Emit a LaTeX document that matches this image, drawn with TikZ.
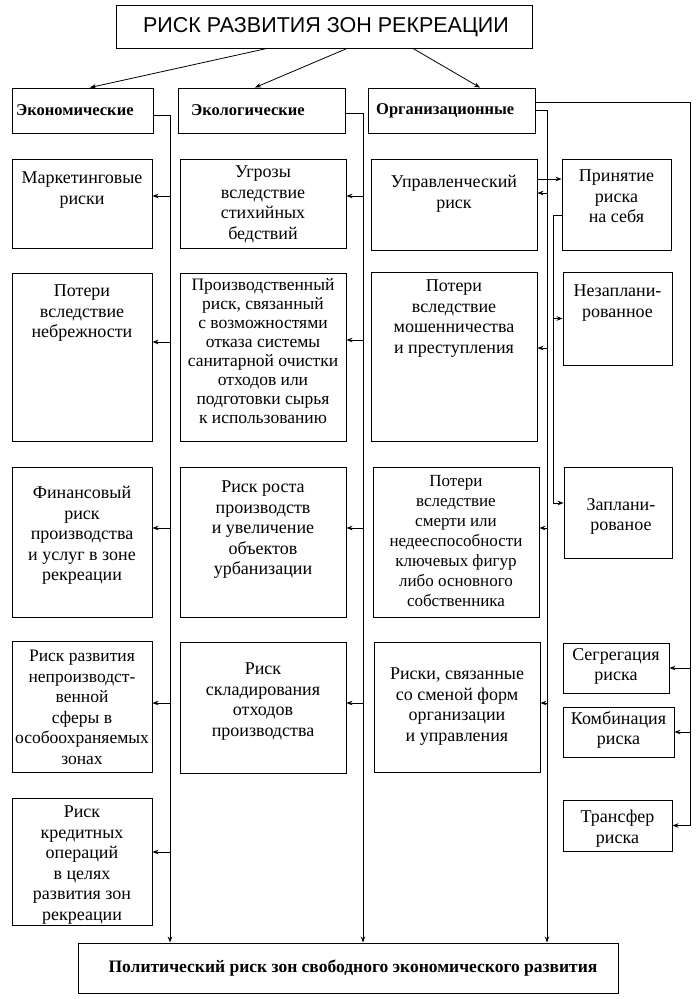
\documentclass[tikz,border=0pt]{standalone}
\usepackage{fontspec}
\setmainfont{Liberation Serif}
\newfontfamily\titlefont{Liberation Sans}
\usetikzlibrary{arrows.meta}

\tikzset{
  rbox/.style={draw, line width=0.9pt, inner sep=0pt},
  rtext/.style={anchor=north, align=center, inner sep=0pt, font=\fontsize{18}{20.5}\selectfont},
  hdr/.style={anchor=west, inner sep=0pt, font=\fontsize{16.5}{19}\selectfont\bfseries},
  link/.style={line width=0.8pt},
}

\begin{document}
\begin{tikzpicture}[x=1pt, y=-1pt, >={Stealth[length=6pt,width=4.5pt]}]

\useasboundingbox (0,0) rectangle (700,999);

% title and three groups
\node[rbox, minimum width=416pt, minimum height=43pt] (title) at (324,26.5) {};
\node[inner sep=0pt, font=\titlefont\fontsize{21.5}{24}\selectfont] (title-t) at (326,27) {РИСК РАЗВИТИЯ ЗОН РЕКРЕАЦИИ};

\node[rbox, minimum width=141pt, minimum height=45pt] (econ) at (82.5,110.5) {};
\node[hdr] (econ-t) at (16,110.5) {Экономические};
\node[rbox, minimum width=167pt, minimum height=45pt] (ecol) at (261.5,110.5) {};
\node[hdr] (ecol-t) at (191,110.5) {Экологические};
\node[rbox, minimum width=167pt, minimum height=45pt] (org) at (451.5,110.5) {};
\node[hdr] (org-t) at (376,110.5) {Организационные};

\draw[link,->] ([xshift=-57pt]title.south) -- ([xshift=7.5pt]econ.north);
\draw[link,->] ([xshift=23pt]title.south) -- ([xshift=-6.5pt]ecol.north);
\draw[link,->] ([xshift=89pt]title.south) -- ([xshift=28.5pt]org.north);

% bottom
\node[rbox, minimum width=540pt, minimum height=50pt] (polit) at (348,968) {};
\node[inner sep=0pt, font=\fontsize{17.5}{19}\selectfont\bfseries] (polit-t) at (353,968) {Политический риск зон свободного экономического развития};

% economic column
\node[rbox, minimum width=140pt, minimum height=89pt] (mark) at (82,203.5) {};
\node[rtext] (mark-t) at (82,172) {Маркетинговые\\риски};
\node[rbox, minimum width=140pt, minimum height=168pt] (neb) at (82,357) {};
\node[rtext] (neb-t) at (82,285) {Потери\\вследствие\\небрежности};
\node[rbox, minimum width=140pt, minimum height=150pt] (fin) at (82,542) {};
\node[rtext] (fin-t) at (82,486) {Финансовый\\риск\\производства\\и услуг в зоне\\рекреации};
\node[rbox, minimum width=140pt, minimum height=131pt] (nepr) at (82,706.5) {};
\node[rtext, font=\fontsize{17.5}{20.5}\selectfont] (nepr-t) at (82,650) {Риск развития\\непроизводст-\\венной\\сферы в\\особоохраняемых\\зонах};
\node[rbox, minimum width=140pt, minimum height=127pt] (kred) at (82,861.5) {};
\node[rtext] (kred-t) at (82,806) {Риск\\кредитных\\операций\\в целях\\развития зон\\рекреации};

% ecological column
\node[rbox, minimum width=166pt, minimum height=89pt] (ugr) at (263,203.5) {};
\node[rtext] (ugr-t) at (263,166) {Угрозы\\вследствие\\стихийных\\бедствий};
\node[rbox, minimum width=166pt, minimum height=168pt] (proizv) at (263,357) {};
\node[rtext, font=\fontsize{17.5}{19}\selectfont] (proizv-t) at (263,278) {Производственный\\риск, связанный\\с возможностями\\отказа системы\\санитарной очистки\\отходов или\\подготовки сырья\\к использованию};
\node[rbox, minimum width=166pt, minimum height=150pt] (rost) at (263,542) {};
\node[rtext] (rost-t) at (263,481) {Риск роста\\производств\\и увеличение\\объектов\\урбанизации};
\node[rbox, minimum width=166pt, minimum height=131pt] (sklad) at (263,707.5) {};
\node[rtext] (sklad-t) at (263,663) {Риск\\складирования\\отходов\\производства};

% organisational column
\node[rbox, minimum width=166pt, minimum height=91pt] (upr) at (454,204.5) {};
\node[rtext] (upr-t) at (454,175) {Управленческий\\риск};
\node[rbox, minimum width=166pt, minimum height=169pt] (mosh) at (454,356.5) {};
\node[rtext] (mosh-t) at (454,280) {Потери\\вследствие\\мошенничества\\и преступления};
\node[rbox, minimum width=166pt, minimum height=150pt] (smert) at (456,542) {};
\node[rtext, font=\fontsize{17}{20}\selectfont] (smert-t) at (456,475) {Потери\\вследствие\\смерти или\\недееспособности\\ключевых фигур\\либо основного\\собственника};
\node[rbox, minimum width=166pt, minimum height=130pt] (smena) at (457,707) {};
\node[rtext] (smena-t) at (457,668) {Риски, связанные\\со сменой форм\\организации\\и управления};

% ways of handling
\node[rbox, minimum width=109pt, minimum height=91pt] (prin) at (616.5,204.5) {};
\node[rtext] (prin-t) at (616.5,170) {Принятие\\риска\\на себя};
\node[rbox, minimum width=109pt, minimum height=93pt] (nezapl) at (617.5,318.5) {};
\node[rtext] (nezapl-t) at (617.5,285) {Незаплани-\\рованное};
\node[rbox, minimum width=108pt, minimum height=91pt] (zapl) at (618,512.5) {};
\node[rtext] (zapl-t) at (621,498) {Заплани-\\рованое};
\node[rbox, minimum width=106pt, minimum height=50pt] (segr) at (616,668) {};
\node[rtext] (segr-t) at (616,648) {Сегрегация\\риска};
\node[rbox, minimum width=111pt, minimum height=50pt] (komb) at (618.5,732) {};
\node[rtext] (komb-t) at (618.5,711) {Комбинация\\риска};
\node[rbox, minimum width=109pt, minimum height=51pt] (transf) at (617.5,825.5) {};
\node[rtext] (transf-t) at (617.5,810) {Трансфер\\риска};

% vertical lines
\coordinate (econ-x) at (170,0);
\coordinate (ecol-x) at (363,0);
\coordinate (org-x) at (547,0);
\coordinate (prin-x) at (553,0);
\coordinate (right-x) at (690,0);

\draw[link,->] ([yshift=-4.5pt]econ.east) -| (econ-x |- polit.north);
\draw[link,->] ([yshift=-2.5pt]ecol.east) -| (ecol-x |- polit.north);
\draw[link,->] (org.east) -| (org-x |- polit.north);
\draw[link,->] ([yshift=8.5pt]org.east) -| (right-x |- transf.east) -- (transf.east);

\draw[link,->] ([yshift=7.5pt]mark.east -| econ-x) -- ([yshift=7.5pt]mark.east);
\draw[link,->] ([yshift=15pt]neb.east -| econ-x) -- ([yshift=15pt]neb.east);
\draw[link,->] ([yshift=14pt]fin.east -| econ-x) -- ([yshift=14pt]fin.east);
\draw[link,->] ([yshift=3.5pt]nepr.east -| econ-x) -- ([yshift=3.5pt]nepr.east);
\draw[link,->] ([yshift=9.5pt]kred.east -| econ-x) -- ([yshift=9.5pt]kred.east);

\draw[link,->] ([yshift=7.5pt]ugr.east -| ecol-x) -- ([yshift=7.5pt]ugr.east);
\draw[link,->] ([yshift=17pt]proizv.east -| ecol-x) -- ([yshift=17pt]proizv.east);
\draw[link,->] ([yshift=14pt]rost.east -| ecol-x) -- ([yshift=14pt]rost.east);
\draw[link,->] ([yshift=4.5pt]sklad.east -| ecol-x) -- ([yshift=4.5pt]sklad.east);

\draw[link,->] ([yshift=11.5pt]upr.east -| org-x) -- ([yshift=11.5pt]upr.east);
\draw[link,->] ([yshift=8.5pt]mosh.east -| org-x) -- ([yshift=8.5pt]mosh.east);
\draw[link,->] ([yshift=14pt]smert.east -| org-x) -- ([yshift=14pt]smert.east);
\draw[link,->] ([yshift=4pt]smena.east -| org-x) -- ([yshift=4pt]smena.east);

\draw[link,->] ([yshift=25.5pt]upr.east) -- ([yshift=25.5pt]upr.east -| prin.west);
\draw[link,->] ([yshift=-10.5pt]prin.west) -| ([yshift=9.5pt]zapl.west -| prin-x) -- ([yshift=9.5pt]zapl.west);
\draw[link,->] (prin-x |- nezapl.west) -- (nezapl.west);

\draw[link,->] (right-x |- segr.east) -- (segr.east);
\draw[link,->] (right-x |- komb.east) -- (komb.east);

\end{tikzpicture}
\end{document}
